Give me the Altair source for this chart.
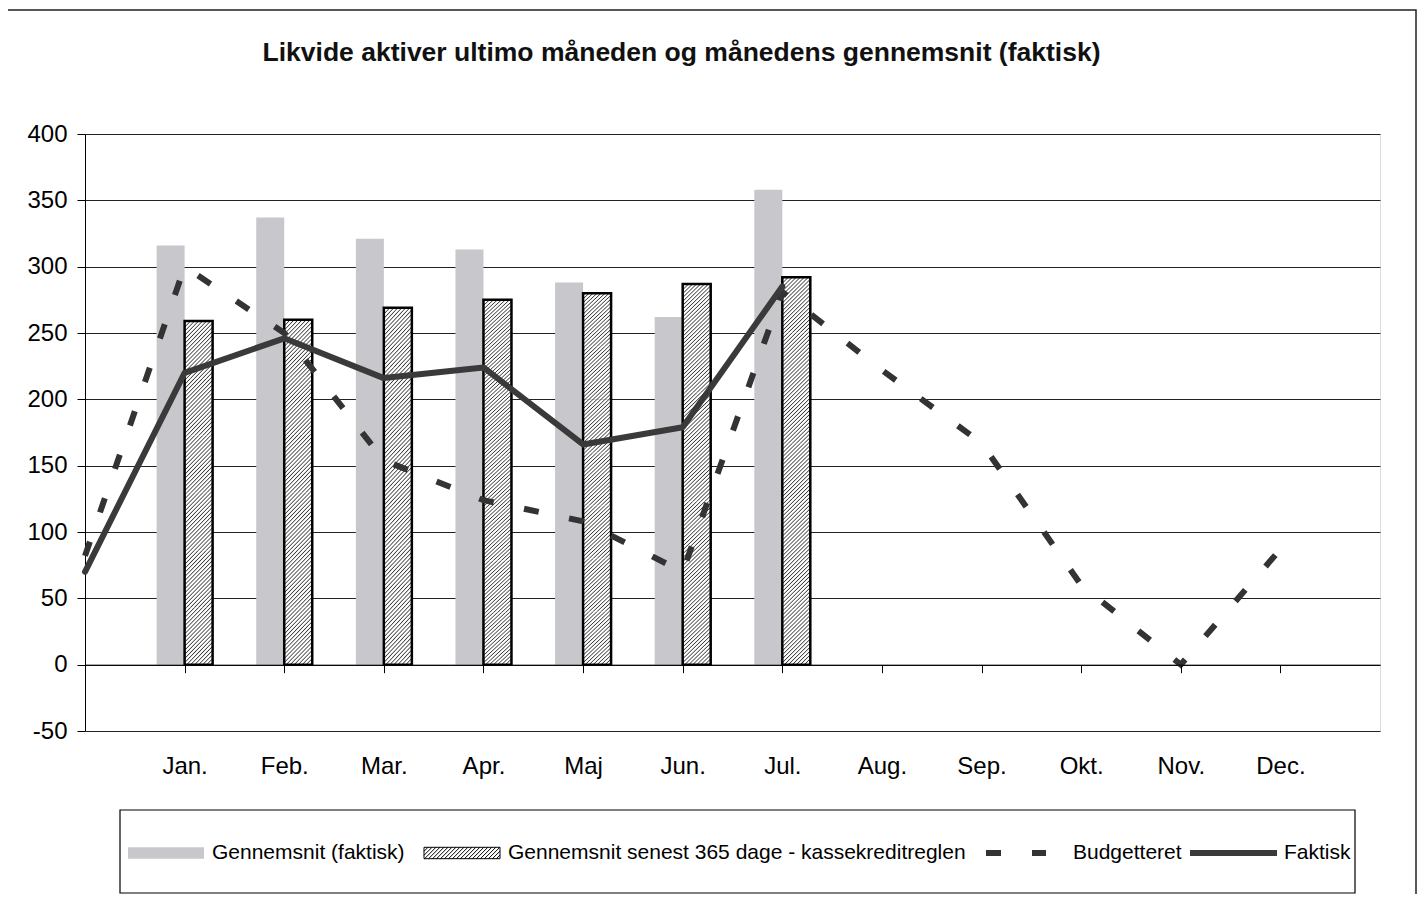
import json
import altair as alt
import pandas as pd

# ---------------- data ----------------
months = ["Jan.", "Feb.", "Mar.", "Apr.", "Maj", "Jun.", "Jul.",
          "Aug.", "Sep.", "Okt.", "Nov.", "Dec."]
series_names = ["Gennemsnit (faktisk)",
                "Gennemsnit senest 365 dage - kassekreditreglen",
                "Budgetteret",
                "Faktisk"]

# bars, Jan..Jul
gennemsnit_faktisk = [316, 337, 321, 313, 288, 262, 358]
gennemsnit_365 = [259, 260, 269, 275, 280, 287, 292]
# lines: first point is the opening value (left edge), then Jan..Dec
budgetteret = [82, 300, 250, 154, 124, 108, 70, 281, 222, 167, 60, 0, 87]
faktisk = [70, 220, 246, 216, 224, 166, 179, 285]

title_text = "Likvide aktiver ultimo måneden og månedens gennemsnit (faktisk)"

# ---------------- tables ----------------
bar1_df = pd.DataFrame({"pos": list(range(1, len(gennemsnit_faktisk) + 1)),
                        "value": gennemsnit_faktisk, "series": series_names[0]})
bar2_df = pd.DataFrame({"pos": list(range(1, len(gennemsnit_365) + 1)),
                        "value": gennemsnit_365, "series": series_names[1]})
budget_df = pd.DataFrame({"pos": list(range(len(budgetteret))),
                          "value": budgetteret, "series": series_names[2]})
fakt_df = pd.DataFrame({"pos": list(range(len(faktisk))),
                        "value": faktisk, "series": series_names[3]})
one_row = pd.DataFrame({"k": [0]})

FONT = "Liberation Sans"
GREY = "#c8c8cc"
LINE_DARK = "#3a3a3a"
DASH_DARK = "#333333"


def hatch(w, h, period=4.0, line_color="#3a3a3a", bg="#ffffff"):
    """Diagonal '/' hatch as a striped linear gradient (bounding-box units).
    Each stripe has a soft (triangular) profile so that it renders without
    aliasing bands."""
    r = h / w
    s = (1 + r) / (1 + r * r)
    n = max(1, round((w + h) / period))
    stops = []
    for k in range(n):
        for f, col in ((0.0, bg), (0.22, bg), (0.5, line_color), (0.78, bg), (1.0, bg)):
            stops.append({"offset": round((k + f) / n, 6), "color": col})
    return {"gradient": "linear", "x1": 0, "y1": 0,
            "x2": round(s, 6), "y2": round(s * r, 6), "stops": stops}


def hatch_symbol_path(half_h=0.15, spacing=0.105):
    """Legend swatch: rectangle outline with '/' hatch lines (unit coords)."""
    parts = ["M-1,%.4fH1V%.4fH-1Z" % (-half_h, half_h)]
    d = 2 * half_h
    x0 = -1 - d
    while x0 < 1:
        t0 = max(0.0, (-1 - x0) / d)
        t1 = min(1.0, (1 - x0) / d)
        if t1 > t0:
            xa, ya = x0 + d * t0, half_h - d * t0
            xb, yb = x0 + d * t1, half_h - d * t1
            parts.append("M%.4f,%.4fL%.4f,%.4f" % (xa, ya, xb, yb))
        x0 += spacing
    return "".join(parts)


seg_hatch = hatch(28, 56)        # each hatched bar is filled in ~56px pieces
rect_path = "M-1,-0.15H1V0.15H-1Z"

# ---------------- scales / axes ----------------
label_expr = json.dumps([""] + months) + "[datum.value]"

x_scale = alt.Scale(domain=[0, 13], nice=False, zero=False, padding=0)
y_scale = alt.Scale(domain=[-50, 400], nice=False, zero=False, padding=0)
x_axis = alt.Axis(values=list(range(1, 13)), labelExpr=label_expr,
                  title=None, grid=False, offset=-66.33,
                  tickSize=8, tickColor="black", domainColor="black",
                  labelPadding=82, labelFont=FONT, labelFontSize=24,
                  labelColor="black", labelFlush=False, zindex=1)
y_axis = alt.Axis(values=list(range(-50, 401, 50)), title=None,
                  labelExpr="'' + datum.value",
                  grid=True, gridColor="#222222", gridWidth=1,
                  tickSize=8, tickColor="black", domainColor="black",
                  labelPadding=10, labelFont=FONT, labelFontSize=24,
                  labelColor="black")

x_enc = alt.X("pos:Q", scale=x_scale, axis=x_axis)
y_enc = alt.Y("value:Q", scale=y_scale, axis=y_axis)


def leg(x, y, size, label_offset, **kw):
    return alt.Legend(title=None, orient="none", legendX=x, legendY=y,
                      symbolSize=size, labelOffset=label_offset, padding=0,
                      labelFont=FONT, labelFontSize=21, labelColor="black",
                      labelLimit=800, **kw)


# legend entries (row centred at y = 719 in plot coordinates)
leg_grey = leg(43, 681, 76 * 76, 8, symbolType=rect_path, symbolStrokeWidth=0)
leg_hatch = leg(338.5, 680.5, 76 * 76, 7.5, symbolType=hatch_symbol_path(),
                symbolStrokeWidth=1, symbolStrokeColor="black",
                symbolFillColor="transparent")
leg_budget = leg(898, 686, 60 * 60, 24, symbolType="stroke",
                 symbolStrokeWidth=6, symbolStrokeColor=DASH_DARK)
leg_fakt = leg(1102, 672.5, 87 * 87, 4, symbolType="stroke",
               symbolStrokeWidth=6)

bars_grey = alt.Chart(bar1_df).mark_bar(width=28, xOffset=-14, opacity=1).encode(
    x=x_enc, y=y_enc,
    color=alt.Color("series:N", scale=alt.Scale(domain=[series_names[0]], range=[GREY]),
                    legend=leg_grey))

# hatch fill, drawn in equal pieces per bar so the stripes render cleanly
bars_hatch_fill = alt.Chart(bar2_df).transform_calculate(
    nseg="max(1, round(datum.value / 42))"
).transform_calculate(
    seg="sequence(0, datum.nseg)"
).transform_flatten(["seg"]).transform_calculate(
    lo="datum.seg * datum.value / datum.nseg",
    hi="(datum.seg + 1) * datum.value / datum.nseg"
).mark_bar(width=28, xOffset=14, fill=seg_hatch, strokeWidth=0).encode(
    x=x_enc,
    y=alt.Y("lo:Q", scale=y_scale, axis=y_axis),
    y2="hi:Q")

bars_hatch_outline = alt.Chart(bar2_df).mark_bar(
    width=28, xOffset=14, fill="white", fillOpacity=0, stroke="black", strokeWidth=2.5
).encode(x=x_enc, y=y_enc)

# carries only the legend entry of the hatched series (draws no marks)
hatch_key = alt.Chart(bar2_df).transform_filter("false").mark_point(
    filled=False, stroke="black", strokeWidth=1
).encode(
    x=x_enc, y=y_enc,
    opacity=alt.Opacity("series:N", scale=alt.Scale(domain=[series_names[1]], range=[1]),
                        legend=leg_hatch))

line_budget = alt.Chart(budget_df).mark_line(
    strokeWidth=6, strokeCap="butt", color=DASH_DARK
).encode(
    x=x_enc, y=y_enc,
    strokeDash=alt.StrokeDash("series:N",
                              scale=alt.Scale(domain=[series_names[2]], range=[[15, 31]]),
                              legend=leg_budget))

line_fakt = alt.Chart(fakt_df).mark_line(
    strokeWidth=6, strokeJoin="round", strokeCap="round"
).encode(
    x=x_enc, y=y_enc,
    color=alt.Color("series:N", scale=alt.Scale(domain=[series_names[3]], range=[LINE_DARK]),
                    legend=leg_fakt))

legend_box = alt.Chart(one_row).mark_rect(
    fill="white", fillOpacity=0, stroke="black", strokeWidth=1.2
).encode(x=alt.value(35), x2=alt.value(1270), y=alt.value(676), y2=alt.value(759))

outer_frame = alt.Chart(one_row).mark_rect(
    fill="white", fillOpacity=0, stroke="#222222", strokeWidth=1.5
).encode(x=alt.value(-78), x2=alt.value(1331), y=alt.value(-124), y2=alt.value(790))

chart = alt.layer(outer_frame, legend_box, bars_grey, bars_hatch_fill, bars_hatch_outline,
                  hatch_key, line_budget, line_fakt).resolve_scale(
    color="independent"
).properties(
    width=1295, height=597,
    title=alt.TitleParams(title_text, font=FONT, fontSize=26.5, fontWeight="bold",
                          color="#111111", anchor="middle", frame="group",
                          dx=-51, offset=-78, baseline="alphabetic"),
    padding={"left": 77, "top": 126, "right": 38, "bottom": 163},
    autosize="none",
).configure_view(stroke="black", strokeWidth=1).configure(background="white")

chart.save("out.html", embed_options={"renderer": "svg", "actions": False})
